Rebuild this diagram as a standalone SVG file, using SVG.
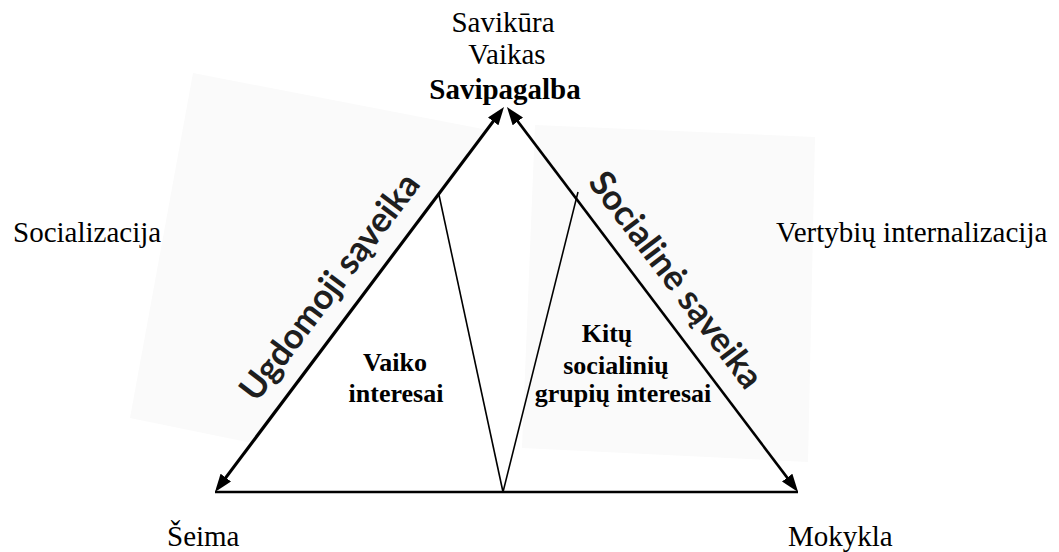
<svg xmlns="http://www.w3.org/2000/svg" width="1059" height="552" viewBox="0 0 1059 552">
  <style>
    .lbl { font-family: "Liberation Serif", "Times New Roman", serif; font-size: 29px; fill: #000; }
    .bold { font-weight: bold; }
    .inner { font-family: "Liberation Serif", "Times New Roman", serif; font-size: 26px; font-weight: bold; fill: #000; text-anchor: middle; }
    .edge { font-family: Lato, "Open Sans", sans-serif; font-size: 35px; font-weight: bold; fill: #1e1e1e; text-anchor: middle; }
    .shade { fill: #fafafa; stroke: none; }
    .thick { stroke: #000; stroke-width: 3.2; fill: none; }
    .mid { stroke: #000; stroke-width: 2.6; fill: none; }
    .thin { stroke: #000; stroke-width: 1.6; fill: none; }
  </style>
  <defs>
    <marker id="arrow" markerUnits="userSpaceOnUse" markerWidth="18" markerHeight="13" refX="6" refY="6.5" orient="auto-start-reverse" viewBox="0 0 18 13">
      <path d="M0,0 L18,6.5 L0,13 z" fill="#000"/>
    </marker>
  </defs>

  <rect width="1059" height="552" fill="#fff"/>

  <g id="shades">
    <polygon class="shade" points="193,73 488,130 252,443 130,418"/>
    <polygon class="shade" points="535,125 815,137 808,462 522,448"/>
  </g>

  <g id="connectors">
    <line class="thick" x1="222.2" y1="482.4" x2="496.8" y2="116.6" marker-start="url(#arrow)" marker-end="url(#arrow)"/>
    <line class="mid" x1="514.2" y1="116.6" x2="790.8" y2="482.4" marker-start="url(#arrow)" marker-end="url(#arrow)"/>
    <line class="mid" x1="215" y1="492" x2="798" y2="492"/>
    <line class="thin" x1="439" y1="195" x2="503" y2="492"/>
    <line class="thin" x1="578" y1="192" x2="503" y2="492"/>
  </g>

  <g id="node-top">
    <text class="lbl" x="503" y="32" text-anchor="middle">Savikūra</text>
    <text class="lbl" x="507" y="64" text-anchor="middle">Vaikas</text>
    <text class="lbl bold" x="505" y="99" text-anchor="middle">Savipagalba</text>
  </g>

  <g id="node-socializacija">
    <text class="lbl" x="13" y="242">Socializacija</text>
  </g>

  <g id="node-vertybiu">
    <text class="lbl" x="776" y="242">Vertybių internalizacija</text>
  </g>

  <g id="node-seima">
    <text class="lbl" x="167" y="546">Šeima</text>
  </g>

  <g id="node-mokykla">
    <text class="lbl" x="788" y="546">Mokykla</text>
  </g>

  <g id="node-vaiko">
    <text class="inner" x="395" y="371">Vaiko</text>
    <text class="inner" x="396" y="402">interesai</text>
  </g>

  <g id="node-kitu">
    <text class="inner" x="607" y="342">Kitų</text>
    <text class="inner" x="616" y="374">socialinių</text>
    <text class="inner" x="623" y="402">grupių interesai</text>
  </g>

  <g id="edge-label-left">
    <text class="edge" transform="translate(339,294) rotate(-53)">Ugdomoji sąveika</text>
  </g>

  <g id="edge-label-right">
    <text class="edge" transform="translate(666.5,287) rotate(52.8)">Socialinė sąveika</text>
  </g>
</svg>
